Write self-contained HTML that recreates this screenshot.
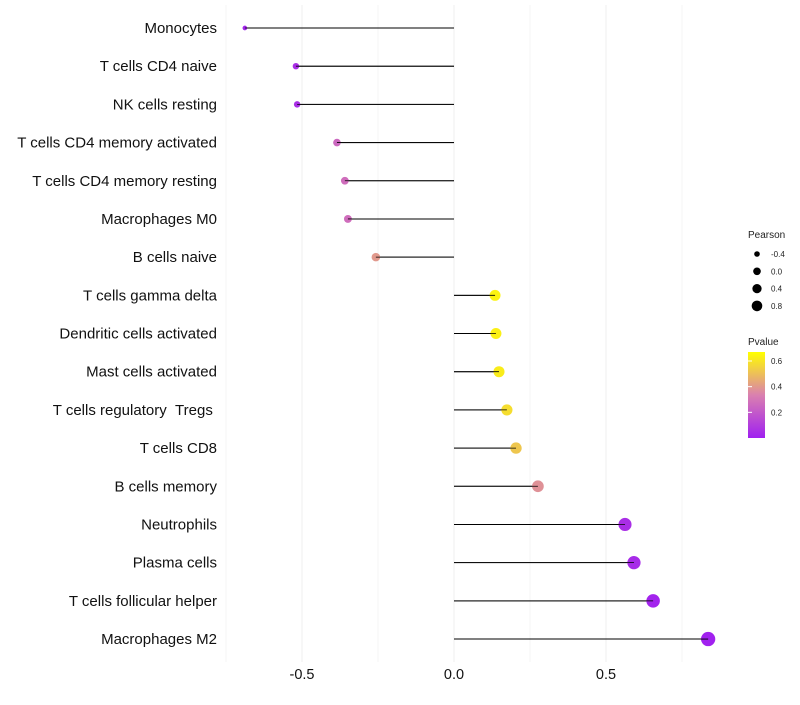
<!DOCTYPE html>
<html><head><meta charset="utf-8"><style>
body{margin:0;background:#fff;font-family:"Liberation Sans",sans-serif;}
</style></head><body>
<svg id="c" width="800" height="700" xmlns="http://www.w3.org/2000/svg"></svg>
<script>
const categories=["Monocytes","T cells CD4 naive","NK cells resting","T cells CD4 memory activated","T cells CD4 memory resting","Macrophages M0","B cells naive","T cells gamma delta","Dendritic cells activated","Mast cells activated","T cells regulatory\u00a0\u00a0Tregs\u00a0","T cells CD8","B cells memory","Neutrophils","Plasma cells","T cells follicular helper","Macrophages M2"];
const pearson=[-0.688,-0.52,-0.516,-0.385,-0.359,-0.349,-0.257,0.135,0.138,0.148,0.174,0.204,0.276,0.5625,0.592,0.655,0.836];
const pvalue=[0.02,0.05,0.05,0.25,0.27,0.27,0.4,0.64,0.63,0.62,0.58,0.52,0.38,0.05,0.04,0.015,0.003];
const xTicks=[-0.5,0,0.5];
const xTickLabels=["-0.5","0.0","0.5"];
const sizeLegend=[-0.4,0,0.4,0.8];
const colorLegend=[0.2,0.4,0.6];
const svg=document.getElementById('c');
const NS="http://www.w3.org/2000/svg";
function X(v){return 454+v*304;}
function Y(i){return 28+i*38.19;}
function R(v){return Math.sqrt(Math.max(3,26+30*v));}
function col(p){let t=Math.max(0,Math.min(1,p/0.67));
 const a=[160,32,240],m=[218,128,175],b=[255,255,0];let c;
 if(t<0.5){c=a.map((x,k)=>x+(m[k]-x)*t*2);}else{c=m.map((x,k)=>x+(b[k]-x)*(t-0.5)*2);}
 return `rgb(${c.map(Math.round).join(',')})`;}
function el(tag,attrs,text){const e=document.createElementNS(NS,tag);for(const k in attrs)e.setAttribute(k,attrs[k]);if(text!==undefined)e.textContent=text;svg.appendChild(e);return e;}
[-0.75,-0.25,0.25,0.75].forEach(v=>{const g=el('line',{x1:X(v),x2:X(v),y1:5,y2:662,stroke:'#f6f6f6','stroke-width':1});

});
xTicks.forEach((v,i)=>{const g=el('line',{x1:X(v),x2:X(v),y1:5,y2:662,stroke:'#efefef','stroke-width':1});


const t=el('text',{x:X(v),y:679,'text-anchor':'middle','font-size':14.5,fill:'#111'},xTickLabels[i]);

});
categories.forEach((c,i)=>{
 const t=el('text',{x:217,y:Y(i)+5,'text-anchor':'end','font-size':15,fill:'#111'},c);
 
 
 const l=el('line',{x1:X(0),x2:X(pearson[i]),y1:Y(i),y2:Y(i),stroke:'#000','stroke-width':1});
 
 
 const p=el('circle',{cx:X(pearson[i]),cy:Y(i),r:R(pearson[i]),fill:col(pvalue[i])});
 
 
 const l2=el('line',{x1:X(0),x2:X(pearson[i]),y1:Y(i),y2:Y(i),stroke:'#000','stroke-width':0.8});
 
 
});
const st=el('text',{x:748,y:238,'font-size':10,fill:'#222'},'Pearson');


sizeLegend.forEach((v,i)=>{const y=254+i*17.3;
 const c=el('circle',{cx:757,cy:y,r:R(v)*0.75,fill:'#000'});
 
 
 const t=el('text',{x:771,y:y+3,'font-size':8,fill:'#222'},v.toFixed(1));
 
 });
const ct=el('text',{x:748,y:345,'font-size':10,fill:'#222'},'Pvalue');


const defs=el('defs',{});
const lg=document.createElementNS(NS,'linearGradient');lg.setAttribute('id','g');lg.setAttribute('x1','0');lg.setAttribute('y1','1');lg.setAttribute('x2','0');lg.setAttribute('y2','0');
[0,0.25,0.5,0.75,1].forEach(f=>{const s=document.createElementNS(NS,'stop');s.setAttribute('offset',f);s.setAttribute('stop-color',col(f*0.67));lg.appendChild(s);});
defs.appendChild(lg);
const bar=el('rect',{x:748,y:352,width:17,height:86,fill:'url(#g)'});


colorLegend.forEach(v=>{const y=438-v/0.67*86;
 const tk=el('line',{x1:748,x2:752,y1:y,y2:y,stroke:'#fff'});
 
 
 const t=el('text',{x:771,y:y+3,'font-size':8,fill:'#222'},v.toFixed(1));
 
 });
</script>
</body></html>
